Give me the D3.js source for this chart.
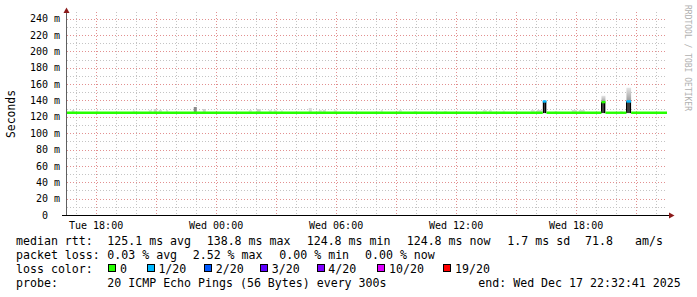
<!DOCTYPE html>
<html>
<head>
<meta charset="utf-8">
<script src="https://cdn.jsdelivr.net/npm/d3@7/dist/d3.min.js"></script>
<style>
  body { margin: 0; background: #fff; }
  text { font-family: "DejaVu Sans Mono", monospace; white-space: pre; }
</style>
</head>
<body>
<div id="chart"></div>
<script>
///// DATA /////
var startTime = "2025-12-16 16:32:41";
var endTime = "2025-12-17 22:32:41";

// median rtt, drawn as segments coloured by loss count
var medianStart = ["2025-12-16 16:32:41", "2025-12-17 16:20:00", "2025-12-17 16:31:00", "2025-12-17 19:16:00", "2025-12-17 19:28:00", "2025-12-17 20:31:00", "2025-12-17 20:45:00"];
var medianEnd   = ["2025-12-17 16:20:00", "2025-12-17 16:31:00", "2025-12-17 19:16:00", "2025-12-17 19:28:00", "2025-12-17 20:31:00", "2025-12-17 20:45:00", "2025-12-17 22:32:41"];
var medianValue = [125.0, 138.8, 125.0, 138.0, 125.0, 138.8, 125.0];
var medianLoss  = [0, 1, 0, 0, 0, 1, 0];

// small smoke specks above the median (start, minutes, top ms, shade)
var smokeTime = ["2025-12-16 16:47:00", "2025-12-16 18:00:00", "2025-12-16 19:50:00", "2025-12-16 20:38:00", "2025-12-16 20:53:00",
  "2025-12-16 21:08:00", "2025-12-16 21:30:00", "2025-12-16 22:53:00", "2025-12-16 23:20:00", "2025-12-17 01:38:00",
  "2025-12-17 02:02:00", "2025-12-17 02:38:00", "2025-12-17 02:53:00", "2025-12-17 03:14:00", "2025-12-17 04:38:00",
  "2025-12-17 05:08:00", "2025-12-17 05:20:00", "2025-12-17 05:53:00", "2025-12-17 06:44:00", "2025-12-17 08:14:00",
  "2025-12-17 09:08:00", "2025-12-17 09:53:00", "2025-12-17 10:44:00", "2025-12-17 11:23:00", "2025-12-17 13:20:00",
  "2025-12-17 13:38:00", "2025-12-17 14:20:00", "2025-12-17 15:44:00", "2025-12-17 16:02:00", "2025-12-17 16:56:00",
  "2025-12-17 17:47:00", "2025-12-17 18:08:00", "2025-12-17 20:11:00"];
var smokeMinutes = [8, 6, 6, 9, 9, 9, 6, 9, 9, 9, 12, 9, 9, 6, 9, 9, 9, 9, 6, 6, 9, 9, 6, 9, 12, 9, 6, 12, 15, 6, 15, 18, 9];
var smokeTop = [128.4, 127.8, 127.8, 128.4, 129.6, 128.4, 128.4, 132.0, 129.6, 128.4,
  129.6, 128.4, 128.4, 127.8, 130.8, 128.4, 128.4, 128.4, 127.2, 128.4,
  128.4, 127.2, 127.2, 127.2, 128.4, 128.4, 127.8, 128.4, 128.4, 127.2,
  128.4, 128.4, 127.2];
var smokeShade = ["#d8d8d8", "#e0e0e0", "#e0e0e0", "#e0e0e0", "#d0d0d0", "#d8d8d8", "#e0e0e0", "#8a8a8a", "#d0d0d0", "#e0e0e0",
  "#d0d0d0", "#e0e0e0", "#e0e0e0", "#e0e0e0", "#d8d8d8", "#e0e0e0", "#d8d8d8", "#e0e0e0", "#e0e0e0", "#e0e0e0",
  "#e0e0e0", "#e0e0e0", "#e0e0e0", "#e0e0e0", "#e0e0e0", "#e0e0e0", "#e0e0e0", "#e0e0e0", "#d8d8d8", "#e0e0e0",
  "#d8d8d8", "#d8d8d8", "#e0e0e0"];

// latency spikes: dark smoke from base up to median, lighter smoke above
var spikeStart = ["2025-12-17 16:20:00", "2025-12-17 19:16:00", "2025-12-17 20:31:00"];
var spikeEnd = ["2025-12-17 16:31:00", "2025-12-17 19:28:00", "2025-12-17 20:45:00"];
var spikeMedian = [138.8, 138.0, 138.8];
var spikeMax = [139.5, 145.8, 155.6];
var spikeBase = 124.6;

var lossLevels = [0, 1, 2, 3, 4, 10, 19];
var lossLabels = ["0", "1/20", "2/20", "3/20", "4/20", "10/20", "19/20"];
var lossColors = ["#26ff00", "#00b8ff", "#0059ff", "#5e00ff", "#7e00ff", "#dd00ff", "#ff0000"];

var yTicks = [0, 20, 40, 60, 80, 100, 120, 140, 160, 180, 200, 220, 240];
var yTickLabels = ["0  ", "20 m", "40 m", "60 m", "80 m", "100 m", "120 m", "140 m", "160 m", "180 m", "200 m", "220 m", "240 m"];
var xTickTimes = ["2025-12-16 18:00:00", "2025-12-17 00:00:00", "2025-12-17 06:00:00", "2025-12-17 12:00:00", "2025-12-17 18:00:00"];

var rttStats = ["125.1 ms avg", "138.8 ms max", "124.8 ms min", "124.8 ms now", "1.7 ms sd", "71.8", "am/s"];
var lossStats = ["0.03 % avg", "2.52 % max", "0.00 % min", "0.00 % now"];
var probeText = "20 ICMP Echo Pings (56 Bytes) every 300s";
var endText = "end: Wed Dec 17 22:32:41 2025";

///// CANVAS /////
var width = 697;
var height = 297;
var parse = d3.timeParse("%Y-%m-%d %H:%M:%S");
var fmt = d3.timeFormat("%a %H:%M");

var svg = d3.select("#chart").append("svg")
  .attr("width", width)
  .attr("height", height);

svg.append("rect")
  .attr("width", width)
  .attr("height", height)
  .attr("fill", "#ffffff");

var t0 = parse(startTime), t1 = parse(endTime);
var x = d3.scaleTime().domain([t0, t1]).range([67, 667]);
var y = d3.scaleLinear().domain([0, 244.5]).range([215, 15]);

var plotTop = 12;

// grid - minor (every 10 ms, every hour), drawn as dotted paths
var minorH = d3.range(10, 245, 20);
var minorV = d3.timeHour.range(t0, t1).filter(function (d) { return d.getHours() % 3 != 0; });
var gMinor = svg.append("g");
gMinor.selectAll("path.h").data(minorH).join("path").attr("class", "h")
  .attr("d", function (d) { var yy = Math.round(y(d)) + 0.5; return "M67," + yy + "H667"; })
  .attr("fill", "none")
  .attr("stroke", "#c4c4c4")
  .attr("stroke-width", 1)
  .attr("stroke-dasharray", "1 2");
gMinor.selectAll("path.v").data(minorV).join("path").attr("class", "v")
  .attr("d", function (d) { var xx = Math.round(x(d)) + 0.5; return "M" + xx + "," + plotTop + "V215"; })
  .attr("fill", "none")
  .attr("stroke", "#c4c4c4")
  .attr("stroke-width", 1)
  .attr("stroke-dasharray", "1 2");

// grid - major
var gMajor = svg.append("g");
gMajor.selectAll("path.h").data(yTicks.slice(1)).join("path").attr("class", "h")
  .attr("d", function (d) { var yy = Math.round(y(d)) + 0.5; return "M67," + yy + "H667"; })
  .attr("fill", "none")
  .attr("stroke", "#e29090")
  .attr("stroke-dasharray", "1 2");
var majorV = d3.timeHour.every(3).range(t0, t1);
gMajor.selectAll("path.v").data(majorV).join("path").attr("class", "v")
  .attr("d", function (d) { var xx = Math.round(x(d)) + 0.5; return "M" + xx + "," + plotTop + "V215"; })
  .attr("fill", "none")
  .attr("stroke", "#e29090")
  .attr("stroke-dasharray", "1 2");

// smoke specks
var specks = smokeTime.map(function (t, i) {
  var s = parse(t);
  return { s: s, e: d3.timeMinute.offset(s, smokeMinutes[i]), top: smokeTop[i], shade: smokeShade[i] };
});
svg.append("g").selectAll("rect").data(specks).join("rect")
  .attr("x", function (d) { return x(d.s); })
  .attr("width", function (d) { return x(d.e) - x(d.s); })
  .attr("y", function (d) { return y(d.top); })
  .attr("height", function (d) { return y(124) - y(d.top); })
  .attr("fill", function (d) { return d.shade; });

// spikes
var defs = svg.append("defs");
var grad = defs.append("linearGradient").attr("id", "smokeGrad")
  .attr("x1", 0).attr("x2", 0).attr("y1", 0).attr("y2", 1);
grad.append("stop").attr("offset", "0%").attr("stop-color", "#e6e6e6");
grad.append("stop").attr("offset", "100%").attr("stop-color", "#9a9a9a");

var spikes = spikeStart.map(function (t, i) {
  return { s: parse(t), e: parse(spikeEnd[i]), med: spikeMedian[i], max: spikeMax[i] };
});
var sg = svg.append("g");
sg.selectAll("rect.upper").data(spikes).join("rect").attr("class", "upper")
  .attr("x", function (d) { return x(d.s); })
  .attr("width", function (d) { return x(d.e) - x(d.s); })
  .attr("y", function (d) { return y(d.max); })
  .attr("height", function (d) { return y(d.med) - y(d.max); })
  .attr("fill", "url(#smokeGrad)");
sg.selectAll("rect.lower").data(spikes).join("rect").attr("class", "lower")
  .attr("x", function (d) { return x(d.s); })
  .attr("width", function (d) { return x(d.e) - x(d.s); })
  .attr("y", function (d) { return y(d.med); })
  .attr("height", function (d) { return y(spikeBase) - y(d.med); })
  .attr("fill", "#3d3d3d");
sg.selectAll("path.edge").data(spikes).join("path").attr("class", "edge")
  .attr("d", function (d) {
    var a = Math.round(x(d.s)) + 0.5, b = Math.round(x(d.e)) - 0.5;
    return "M" + a + "," + y(d.med) + "V" + y(spikeBase) + "M" + b + "," + y(d.med) + "V" + y(spikeBase);
  })
  .attr("stroke", "#000").attr("stroke-width", 1);

// median line
function lossColor(l) {
  var idx = d3.bisectRight(lossLevels, l) - 1;
  return lossColors[Math.max(0, idx)];
}
var medians = medianStart.map(function (t, i) {
  return { s: parse(t), e: parse(medianEnd[i]), v: medianValue[i], c: lossColor(medianLoss[i]) };
});
svg.append("g").selectAll("line").data(medians).join("line")
  .attr("x1", function (d) { return x(d.s); })
  .attr("x2", function (d) { return x(d.e); })
  .attr("y1", function (d) { return y(d.v); })
  .attr("y2", function (d) { return y(d.v); })
  .attr("stroke", function (d) { return d.c; })
  .attr("stroke-width", 2.4);

// axes
svg.append("line").attr("x1", 66.5).attr("x2", 66.5).attr("y1", 215).attr("y2", 9)
  .attr("stroke", "#606060");
svg.append("line").attr("x1", 62).attr("x2", 670).attr("y1", 215.5).attr("y2", 215.5)
  .attr("stroke", "#000");
svg.append("path").attr("d", "M63.5,13L66.5,7.5L69.5,13Z").attr("fill", "#8b1a1a");
svg.append("path").attr("d", "M669,212.5L674.5,215.5L669,218.5Z").attr("fill", "#8b1a1a");

// y labels
svg.append("g").selectAll("text").data(yTicks).join("text")
  .attr("x", 60)
  .attr("y", function (d) { return y(d); })
  .attr("dy", "0.36em")
  .attr("text-anchor", "end")
  .style("font-size", "10px")
  .attr("fill", "#000")
  .text(function (d, i) { return yTickLabels[i]; });

// x labels
svg.append("g").selectAll("text").data(xTickTimes.map(parse)).join("text")
  .attr("x", function (d) { return x(d); })
  .attr("y", 229)
  .attr("text-anchor", "middle")
  .style("font-size", "10px")
  .attr("fill", "#000")
  .text(function (d) { return fmt(d); });

// axis title
svg.append("text")
  .attr("transform", "translate(15,114) rotate(-90)")
  .attr("text-anchor", "middle")
  .style("font-size", "11.4px")
  .attr("fill", "#000")
  .text("Seconds");

// watermark
svg.append("text")
  .attr("transform", "translate(685,5) rotate(90)")
  .style("font-size", "8px")
  .attr("fill", "#b0b0b0")
  .text("RRDTOOL / TOBI OETIKER");

// legend
var legend = svg.append("g").style("font-size", "11.6px").attr("fill", "#000");
function put(txt, lx, ly) {
  legend.append("text").attr("x", lx).attr("y", ly).text(txt);
}
put("median rtt:", 16, 245);
var rttX = [107.3, 206.7, 306.7, 406.7, 507.3, 585, 635];
rttStats.forEach(function (s, i) { put(s, rttX[i], 245); });

put("packet loss:", 16, 259);
var lossX = [107.3, 192.7, 279.3, 365];
lossStats.forEach(function (s, i) { put(s, lossX[i], 259); });

put("loss color:", 16, 273);
var boxX = [108.3, 146.7, 204, 260, 316.5, 377.3, 443.3];
lossLabels.forEach(function (s, i) {
  legend.append("rect")
    .attr("x", Math.round(boxX[i]) + 0.5).attr("y", 264.5)
    .attr("width", 7).attr("height", 7)
    .attr("fill", lossColors[i]).attr("stroke", "#000");
  put(s, boxX[i] + 11.7, 273);
});

put("probe:", 16, 287);
put(probeText, 107.3, 287);
put(endText, 478.3, 287);
</script>
</body>
</html>
